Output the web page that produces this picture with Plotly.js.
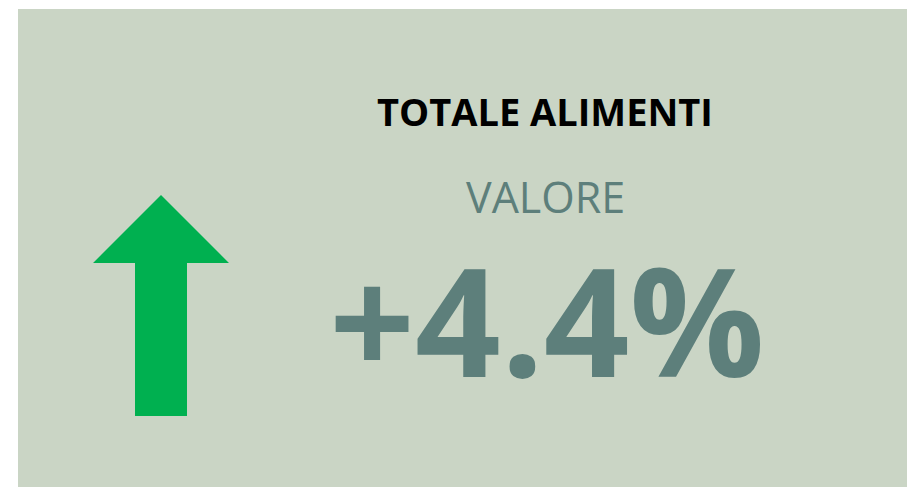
<!DOCTYPE html>
<html>
<head>
<meta charset="utf-8">
<script src="https://cdn.plot.ly/plotly-3.0.1.min.js"></script>
<style>html,body{margin:0;padding:0;background:#fff;}#chart{width:907px;height:487px;}</style>
</head>
<body>
<div id="chart"></div>
<script>
// Data
const cardTitle = ["TOTALE ALIMENTI"];
const measureLabel = ["VALORE"];
const changeValue = [4.4];
const direction = ["up"];

const panelColor = "#cad5c5";
const textColor = "#5d7f7b";
const arrowColor = "#00b050";

// up arrow icon in pixel-like axis units
const arrowPath = direction[0] === "up"
  ? "M 161 195 L 229 263 L 187 263 L 187 416 L 135 416 L 135 263 L 93 263 Z"
  : "M 161 416 L 229 348 L 187 348 L 187 195 L 135 195 L 135 348 L 93 348 Z";

const traces = [
  {
    type: "scatter", x: [18, 907], y: [9, 487], mode: "markers",
    marker: {opacity: 0}, hoverinfo: "skip", showlegend: false
  },
  {
    type: "indicator",
    mode: "number",
    value: changeValue[0],
    number: {
      valueformat: ".1f",
      prefix: changeValue[0] > 0 ? "+" : "",
      suffix: "%",
      font: {family: "Open Sans", size: 150, color: textColor, weight: "bold"}
    },
    domain: {x: [0.30, 0.89], y: [0.162, 0.542]}
  }
];

const layout = {
  width: 907, height: 487,
  margin: {l: 18, r: 0, t: 9, b: 0, pad: 0},
  paper_bgcolor: "#ffffff",
  plot_bgcolor: panelColor,
  xaxis: {range: [18, 907], visible: false, fixedrange: true},
  yaxis: {range: [487, 9], visible: false, fixedrange: true},
  showlegend: false,
  shapes: [
    {type: "path", xref: "x", yref: "y", path: arrowPath, fillcolor: arrowColor, line: {width: 0}, layer: "above"}
  ],
  annotations: [
    {text: "<b>" + cardTitle[0] + "</b>", xref: "x", yref: "y", x: 545, y: 111, xanchor: "center", yanchor: "middle",
     showarrow: false, font: {family: "Open Sans", size: 38, color: "#000000"}},
    {text: measureLabel[0], xref: "x", yref: "y", x: 545, y: 196, xanchor: "center", yanchor: "middle",
     showarrow: false, font: {family: "Open Sans", size: 43, color: textColor}}
  ]
};

Plotly.newPlot("chart", traces, layout, {staticPlot: true, displayModeBar: false});
</script>
</body>
</html>
